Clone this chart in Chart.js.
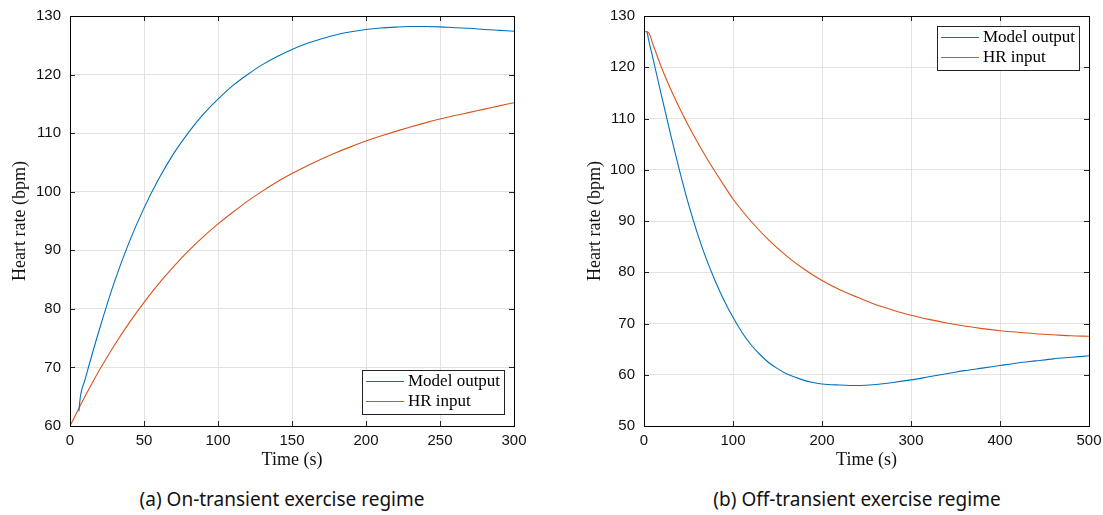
<!DOCTYPE html>
<html>
<head>
<meta charset="utf-8">
<script src="https://cdn.jsdelivr.net/npm/chart.js@4.4.0/dist/chart.umd.min.js"></script>
<style>
body { margin:0; background:#fff; width:1103px; height:515px; position:relative; overflow:hidden; }
.box { position:absolute; top:0; }
.cap { position:absolute; top:486px; font-family:"Noto Sans", sans-serif; font-size:19px; color:#111; transform:translateX(-50%); white-space:nowrap; }
</style>
</head>
<body>
<div class="box" style="left:0;width:530px;height:475px"><canvas id="onChart"></canvas></div>
<div class="box" style="left:575px;width:528px;height:475px"><canvas id="offChart"></canvas></div>
<div class="cap" style="left:282px">(a) On-transient exercise regime</div>
<div class="cap" style="left:857px">(b) Off-transient exercise regime</div>
<script>
// on-transient (a)
var onModelT = [6,7,10,20,30,40,50,60,70,80,90,100,110,120,130,140,150,160,170,180,190,200,210,220,230,240,250,260,270,280,290,300]
var onModelHR = [62.5,65,67.8,76.6,84.6,91.4,97.2,102.2,106.5,110.1,113.2,115.8,118.1,120.0,121.7,123.1,124.3,125.3,126.1,126.8,127.3,127.7,127.95,128.1,128.2,128.2,128.15,128.0,127.9,127.7,127.55,127.4]
var onInputT = [0,10,20,30,40,50,60,70,80,90,100,110,120,130,140,150,160,170,180,190,200,210,220,230,240,250,260,270,280,290,300]
var onInputHR = [60,65,69.6,73.8,77.6,81.1,84.3,87.2,89.9,92.3,94.5,96.5,98.4,100.1,101.7,103.1,104.4,105.6,106.7,107.7,108.65,109.5,110.3,111.05,111.75,112.4,113.0,113.55,114.1,114.65,115.2]

// off-transient (b)
var offModelT = [3,4,5,10,20,30,40,50,60,70,80,90,100,110,120,130,140,150,160,170,180,190,200,220,240,260,280,300,320,340,360,380,400,420,440,460,480,500]
var offModelHR = [127,126.5,125.5,121.8,114.2,106.8,99.8,93.3,87.6,82.6,78.3,74.5,71.2,68.3,65.9,64,62.4,61.2,60.2,59.5,58.9,58.5,58.2,58.0,57.9,58.1,58.5,59.0,59.6,60.2,60.8,61.3,61.8,62.3,62.7,63.1,63.4,63.7]
var offInputT = [0,5,10,20,30,40,50,60,70,80,90,100,120,140,160,180,200,220,240,260,280,300,320,340,360,380,400,420,440,460,480,500]
var offInputHR = [127,126.8,124.5,119.8,115.7,112.0,108.6,105.4,102.4,99.6,96.9,94.3,90,86.3,83.2,80.6,78.4,76.6,75.1,73.7,72.6,71.6,70.8,70.1,69.5,69.0,68.6,68.3,68.0,67.8,67.6,67.5]

var seriesNames = ['Model output','HR input']
var seriesColors = ['#0072BD','#D95319']

function pts(t, v) {
  var out = []
  for (var i = 0; i < t.length; i++) out.push({x:t[i], y:v[i]})
  return out
}

// matlab style box, inner ticks and boxed legend
function boxPlugin(legendAt) {
  return {
    id: 'box',
    afterDatasetsDraw: function(chart) {
      var ctx = chart.ctx, a = chart.chartArea
      var xs = chart.scales.x, ys = chart.scales.y
      ctx.save()
      ctx.strokeStyle = '#222'
      ctx.lineWidth = 1
      ctx.beginPath()
      xs.ticks.forEach(function(t) {
        var px = Math.round(xs.getPixelForValue(t.value)) + 0.5
        ctx.moveTo(px, a.bottom); ctx.lineTo(px, a.bottom - 5)
        ctx.moveTo(px, a.top); ctx.lineTo(px, a.top + 5)
      })
      ys.ticks.forEach(function(t) {
        var py = Math.round(ys.getPixelForValue(t.value)) + 0.5
        ctx.moveTo(a.left, py); ctx.lineTo(a.left + 5, py)
        ctx.moveTo(a.right, py); ctx.lineTo(a.right - 5, py)
      })
      ctx.stroke()
      ctx.strokeStyle = '#000'
      ctx.strokeRect(Math.round(a.left) + 0.5, Math.round(a.top) + 0.5, Math.round(a.right - a.left), Math.round(a.bottom - a.top))

      // legend
      var w = 142, h = 44
      var lx = Math.round(a.right) - 10 - w
      var ly = legendAt == 'top' ? Math.round(a.top) + 10 : Math.round(a.bottom) - 12 - h
      ctx.fillStyle = '#fff'
      ctx.fillRect(lx, ly, w, h)
      ctx.strokeStyle = '#222'
      ctx.strokeRect(lx + 0.5, ly + 0.5, w, h)
      ctx.font = '17px "Liberation Serif", serif'
      ctx.textBaseline = 'middle'
      for (var i = 0; i < 2; i++) {
        var yy = ly + 11.5 + i * 20
        ctx.beginPath()
        ctx.strokeStyle = seriesColors[i]
        ctx.lineWidth = 1.2
        ctx.moveTo(lx + 4, yy); ctx.lineTo(lx + 42, yy)
        ctx.stroke()
        ctx.fillStyle = '#000'
        ctx.fillText(seriesNames[i], lx + 46, yy)
      }
      ctx.restore()
    }
  }
}

function makeChart(id, datasets, xMax, xStep, yMin, yMax, legendAt, yWidth, padRight) {
  return new Chart(document.getElementById(id), {
    type: 'line',
    data: { datasets: datasets.map(function(d, i) {
      return { label: seriesNames[i], data: d, borderColor: seriesColors[i], borderWidth: 1.1,
               pointRadius: 0, cubicInterpolationMode: 'monotone', fill: false }
    }) },
    options: {
      responsive: true, maintainAspectRatio: false, animation: false,
      layout: { padding: { top: 16, right: padRight, left: 0, bottom: 0 } },
      plugins: { legend: { display: false }, tooltip: { enabled: false } },
      scales: {
        x: {
          type: 'linear', min: 0, max: xMax,
          ticks: { stepSize: xStep, color: '#111', font: { family: '"Liberation Sans", Arial', size: 15 }, padding: 6, maxRotation: 0 },
          grid: { color: '#e3e3e3', drawTicks: false }, border: { display: false },
          title: { display: true, text: 'Time (s)', color: '#111', font: { family: '"Liberation Serif", serif', size: 18 }, padding: { top: 0, bottom: 4 } },
          afterFit: function(s) { s.height = 49; s.paddingLeft = 0; s.paddingRight = 0 }
        },
        y: {
          min: yMin, max: yMax,
          ticks: { stepSize: 10, color: '#111', font: { family: '"Liberation Sans", Arial', size: 15 }, padding: 9 },
          grid: { color: '#e3e3e3', drawTicks: false }, border: { display: false },
          title: { display: true, text: 'Heart rate (bpm)', color: '#111', font: { family: '"Liberation Serif", serif', size: 18 }, padding: { top: 9, bottom: 0 } },
          afterFit: function(s) { s.width = yWidth; s.paddingTop = 0; s.paddingBottom = 0 }
        }
      }
    },
    plugins: [boxPlugin(legendAt)]
  })
}

makeChart('onChart', [pts(onModelT, onModelHR), pts(onInputT, onInputHR)], 300, 50, 60, 130, 'bottom', 70, 16)
makeChart('offChart', [pts(offModelT, offModelHR), pts(offInputT, offInputHR)], 500, 100, 50, 130, 'top', 69, 14)
</script>
</body>
</html>
